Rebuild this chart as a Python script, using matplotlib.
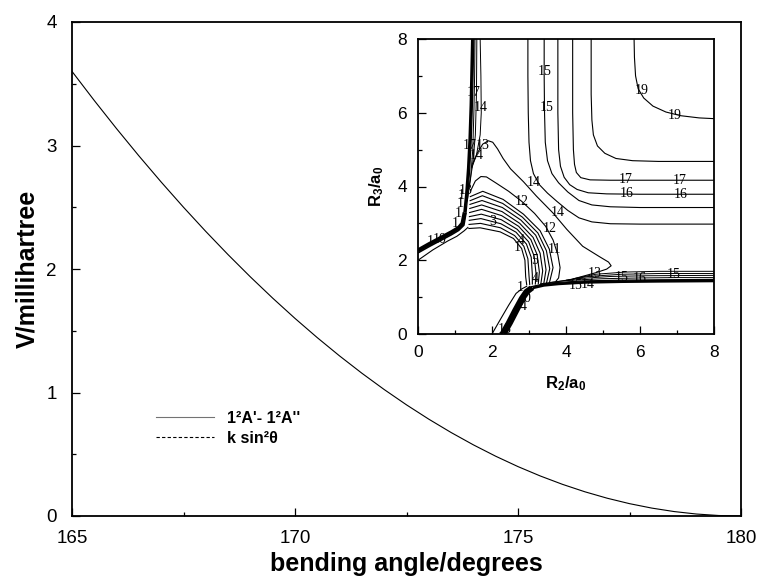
import matplotlib
matplotlib.use("Agg")
import matplotlib.pyplot as plt
from matplotlib.ticker import MultipleLocator

plt.rcParams['font.family'] = ['Liberation Sans', 'DejaVu Sans']
plt.rcParams['mathtext.fontset'] = 'custom'
plt.rcParams['mathtext.rm'] = 'Liberation Sans'
plt.rcParams['mathtext.bf'] = 'Liberation Sans:bold'
plt.rcParams['mathtext.it'] = 'Liberation Sans:italic'

# ---------------- main chart data ----------------
angle = [165.0, 165.5, 166.0, 166.5, 167.0, 167.5, 168.0, 168.5, 169.0, 169.5, 170.0,
         170.5, 171.0, 171.5, 172.0, 172.5, 173.0, 173.5, 174.0, 174.5, 175.0,
         175.5, 176.0, 176.5, 177.0, 177.5, 178.0, 178.5, 179.0, 179.5, 180.0]
v_diff = [3.600, 3.364, 3.136, 2.916, 2.704, 2.500, 2.304, 2.116, 1.936, 1.764, 1.600,
          1.444, 1.296, 1.156, 1.024, 0.900, 0.784, 0.676, 0.576, 0.484, 0.400,
          0.324, 0.256, 0.196, 0.144, 0.100, 0.064, 0.036, 0.016, 0.004, 0.000]
fit_angle = [165.0, 180.0]
v_fit = [0.0, 0.0]
series_labels = ["1\u00b2A'- 1\u00b2A''", "k sin\u00b2\u03b8"]
x_ticks = [165, 170, 175, 180]
y_ticks = [0, 1, 2, 3, 4]

# ---------------- inset contour lines (R2, R3 in a0) ----------------
wall_left_slant = [(0.0, 2.27), (0.3, 2.44), (0.6, 2.6), (0.9, 2.76), (1.1, 2.88), (1.2, 3.0), (1.26, 3.3)]
wall_left_slant_b = [(0.0, 2.2), (0.3, 2.37), (0.6, 2.53), (0.9, 2.69), (1.1, 2.81), (1.24, 2.95), (1.3, 3.3)]
wall_left_up = [(1.26, 3.3), (1.31, 3.8), (1.36, 4.5), (1.4, 5.3), (1.43, 6.2), (1.45, 7.1), (1.47, 8.0)]
wall_left_up_b = [(1.3, 3.3), (1.35, 3.8), (1.4, 4.5), (1.44, 5.3), (1.47, 6.2), (1.49, 7.1), (1.51, 8.0)]
wall_bottom_slant = [(2.33, 0.0), (2.5, 0.3), (2.68, 0.65), (2.85, 0.98), (2.97, 1.15), (3.1, 1.25)]
wall_bottom_slant_b = [(2.24, 0.0), (2.41, 0.3), (2.59, 0.65), (2.77, 0.98), (2.9, 1.17), (3.05, 1.28)]
wall_bottom_flat = [(3.1, 1.25), (3.4, 1.32), (3.8, 1.36), (4.5, 1.4), (5.5, 1.42), (6.5, 1.43), (8.0, 1.44)]
wall_bottom_flat_b = [(3.05, 1.28), (3.4, 1.36), (3.8, 1.4), (4.5, 1.44), (5.5, 1.46), (6.5, 1.47), (8.0, 1.48)]
thin_left = [(0.0, 2.0), (0.4, 2.28), (0.8, 2.52), (1.05, 2.65), (1.25, 2.8), (1.36, 2.9)]
thin_bottom = [(2.0, 0.0), (2.2, 0.35), (2.45, 0.78), (2.65, 1.1), (2.8, 1.22), (2.95, 1.3)]

chan_h = [
    [(3.3, 1.36), (4.0, 1.45), (5.0, 1.5), (6.0, 1.52), (7.0, 1.53), (8.0, 1.53)],
    [(3.6, 1.4), (4.3, 1.5), (5.2, 1.56), (6.2, 1.58), (8.0, 1.59)],
    [(4.0, 1.46), (4.6, 1.56), (5.5, 1.62), (6.5, 1.64), (8.0, 1.64)],
    [(4.2, 1.5), (4.8, 1.62), (5.6, 1.68), (6.5, 1.7), (8.0, 1.7)],
]
chan_v = [
    [(1.33, 3.6), (1.42, 4.2), (1.48, 5.0), (1.51, 6.0), (1.53, 7.0), (1.54, 8.0)],
    [(1.38, 4.0), (1.48, 4.6), (1.55, 5.4), (1.58, 6.5), (1.59, 8.0)],
    [(1.45, 4.5), (1.58, 4.85), (1.68, 5.4), (1.71, 6.0), (1.7, 7.0), (1.68, 8.0)],
]
bump = [(1.47, 4.6), (1.6, 4.9), (1.75, 5.15), (1.9, 5.24), (2.02, 5.2), (2.15, 5.02), (2.3, 4.76),
        (2.5, 4.48), (2.85, 4.13), (3.2, 3.74), (3.65, 3.28), (4.02, 2.84), (4.45, 2.38), (4.9, 2.1),
        (5.15, 1.95), (5.22, 1.85), (5.1, 1.76), (4.8, 1.66), (4.4, 1.55), (4.05, 1.45)]
l_curves = [
    [(2.97, 8.0), (2.97, 7.0), (2.98, 6.0), (3.0, 5.2), (3.04, 4.7), (3.12, 4.35), (3.28, 4.05),
     (3.5, 3.82), (3.75, 3.6), (4.05, 3.35), (4.35, 3.15), (4.7, 3.04), (5.2, 2.99), (6.0, 2.98), (8.0, 2.98)],
    [(3.41, 8.0), (3.41, 7.0), (3.42, 6.0), (3.44, 5.2), (3.5, 4.7), (3.62, 4.35), (3.8, 4.1),
     (4.05, 3.85), (4.35, 3.62), (4.7, 3.5), (5.2, 3.45), (6.0, 3.43), (8.0, 3.43)],
    [(3.78, 8.0), (3.78, 6.0), (3.8, 5.0), (3.85, 4.55), (3.95, 4.25), (4.1, 4.05), (4.3, 3.92),
     (4.6, 3.83), (5.1, 3.8), (6.0, 3.79), (8.0, 3.79)],
    [(4.18, 8.0), (4.18, 6.0), (4.2, 5.0), (4.23, 4.6), (4.28, 4.38), (4.4, 4.24), (4.65, 4.18),
     (5.2, 4.17), (8.0, 4.17)],
    [(4.68, 8.0), (4.68, 6.5), (4.7, 5.8), (4.74, 5.4), (4.85, 5.1), (5.05, 4.9), (5.35, 4.76),
     (5.8, 4.7), (6.5, 4.68), (8.0, 4.68)],
    [(5.84, 8.0), (5.85, 7.5), (5.88, 7.0), (5.95, 6.65), (6.1, 6.4), (6.35, 6.18), (6.7, 6.02),
     (7.1, 5.92), (7.6, 5.86), (8.0, 5.84)],
]
arcs = [
    [(1.36, 2.86), (1.68, 2.88), (2.22, 2.77), (2.58, 2.59), (2.8, 2.32), (2.89, 2.0), (2.91, 1.55), (2.94, 1.32)],
    [(1.365, 2.97), (1.69, 3.0), (2.23, 2.88), (2.61, 2.67), (2.86, 2.38), (2.97, 2.04), (3.0, 1.58), (3.02, 1.33)],
    [(1.37, 3.08), (1.70, 3.13), (2.24, 2.99), (2.65, 2.76), (2.93, 2.44), (3.06, 2.08), (3.09, 1.61), (3.09, 1.34)],
    [(1.375, 3.18), (1.71, 3.25), (2.25, 3.1), (2.68, 2.84), (2.99, 2.5), (3.14, 2.11), (3.19, 1.64), (3.17, 1.34)],
    [(1.38, 3.29), (1.72, 3.38), (2.26, 3.21), (2.72, 2.92), (3.05, 2.56), (3.22, 2.15), (3.28, 1.68), (3.25, 1.35)],
    [(1.385, 3.4), (1.72, 3.5), (2.27, 3.32), (2.75, 3.0), (3.11, 2.62), (3.3, 2.19), (3.37, 1.71), (3.32, 1.36)],
    [(1.39, 3.51), (1.73, 3.62), (2.28, 3.43), (2.78, 3.09), (3.18, 2.68), (3.39, 2.23), (3.46, 1.74), (3.4, 1.37)],
    [(1.395, 3.61), (1.74, 3.75), (2.29, 3.54), (2.82, 3.17), (3.24, 2.74), (3.47, 2.26), (3.56, 1.77), (3.47, 1.37)],
    [(1.40, 3.72), (1.75, 3.87), (2.3, 3.65), (2.85, 3.25), (3.3, 2.8), (3.55, 2.3), (3.65, 1.8), (3.55, 1.38)],
    [(1.42, 3.88), (1.55, 4.15), (1.7, 4.27), (1.85, 4.26), (2.1, 4.1), (2.45, 3.87), (2.8, 3.6), (3.15, 3.27),
     (3.45, 2.92), (3.65, 2.55), (3.78, 2.15), (3.84, 1.8), (3.8, 1.52), (3.72, 1.42)],
]
contour_labels = [
    ("15", 3.43, 7.13), ("15", 3.48, 6.13), ("19", 6.05, 6.6), ("19", 6.93, 5.93),
    ("17", 1.5, 6.54), ("14", 1.7, 6.13), ("17", 1.4, 5.12), ("13", 1.75, 5.1), ("14", 1.6, 4.85),
    ("14", 3.12, 4.1), ("17", 5.62, 4.2), ("17", 7.08, 4.17), ("16", 5.64, 3.81), ("16", 7.1, 3.78),
    ("12", 2.8, 3.6), ("14", 3.77, 3.29), ("12", 3.57, 2.86), ("11", 3.68, 2.28), ("3", 2.02, 3.05),
    ("4", 2.8, 2.54), ("1", 2.67, 2.34), ("5", 3.16, 2.0), ("4", 3.18, 1.5), ("1", 2.76, 1.26),
    ("0", 2.94, 0.96), ("4", 2.85, 0.74), ("18", 2.35, 0.11), ("13", 4.78, 1.64), ("15", 5.5, 1.54),
    ("16", 6.0, 1.5), ("15", 6.9, 1.6), ("15", 4.25, 1.31), ("14", 4.6, 1.34),
    ("1", 1.0, 2.99), ("1", 1.09, 3.26), ("1", 1.14, 3.55), ("1", 1.18, 3.76), ("13", 1.3, 3.89),
    ("1", 0.34, 2.5), ("10", 0.58, 2.56),
]
inset_ticks = [0, 2, 4, 6, 8]

# ---------------- figure ----------------
fig = plt.figure(figsize=(7.62, 5.81), dpi=100)
ax = fig.add_axes([72 / 762, 1 - 516 / 581, 669 / 762, 494 / 581])
ax.plot(angle, v_diff, color='black', lw=0.8, label=series_labels[0])
ax.plot(fit_angle, v_fit, color='black', lw=0.8, ls=(0, (3, 2)), label=series_labels[1])
ax.set_xlim(165, 180)
ax.set_ylim(0, 4)
ax.set_xticks(x_ticks)
ax.set_yticks(y_ticks)
ax.xaxis.set_minor_locator(MultipleLocator(2.5))
ax.yaxis.set_minor_locator(MultipleLocator(0.5))
ax.tick_params(which='both', direction='in', top=False, right=False, labelsize=13.5, width=0.9)
ax.tick_params(which='major', length=6)
ax.tick_params(which='minor', length=3)
ax.tick_params(axis='x', pad=10)
ax.tick_params(axis='y', pad=11)
for s in ax.spines.values():
    s.set_linewidth(1.3)
ax.set_xlabel('bending angle/degrees', fontsize=18, fontweight='bold', labelpad=4)
ax.set_ylabel('V/millihartree', fontsize=18, fontweight='bold', labelpad=5)
leg = ax.legend(loc='upper left', bbox_to_anchor=(0.126, 0.213), frameon=False,
                prop={'weight': 'bold', 'size': 11.5}, handlelength=3.6, handletextpad=0.8,
                labelspacing=0.3, borderpad=0, borderaxespad=0)
leg.get_lines()[0].set_color('0.45')

# ---------------- inset ----------------
ins = fig.add_axes([418 / 762, 1 - 334 / 581, 296 / 762, 295 / 581])
ins.set_xlim(0, 8)
ins.set_ylim(0, 8)


def draw(pts, **kw):
    xs, ys = zip(*pts)
    ins.plot(xs, ys, color='black', solid_joinstyle='round', solid_capstyle='butt', **kw)


draw(wall_left_slant, lw=2.8)
draw(wall_left_slant_b, lw=1.2)
draw(wall_left_up, lw=2.0)
draw(wall_left_up_b, lw=0.9)
draw(wall_bottom_slant, lw=3.5)
draw(wall_bottom_slant_b, lw=2.2)
draw(wall_bottom_flat, lw=2.0)
draw(wall_bottom_flat_b, lw=0.9)
draw(thin_left, lw=0.8)
draw(thin_bottom, lw=0.8)
for c in chan_h + chan_v:
    draw(c, lw=0.7)
draw(bump, lw=0.8)
for c in l_curves:
    draw(c, lw=0.8)
for c in arcs:
    draw(c, lw=0.8)
for t, x, y in contour_labels:
    ins.text(x, y, t, fontsize=10, family='Liberation Serif', ha='center', va='center')

ins.set_xticks(inset_ticks)
ins.set_yticks(inset_ticks)
ins.xaxis.set_minor_locator(MultipleLocator(1))
ins.yaxis.set_minor_locator(MultipleLocator(1))
ins.tick_params(which='both', direction='in', top=False, right=False, labelsize=12.5, width=0.9)
ins.tick_params(which='major', length=6)
ins.tick_params(which='minor', length=3)
ins.tick_params(axis='x', pad=8)
ins.tick_params(axis='y', pad=8)
for s in ins.spines.values():
    s.set_linewidth(1.3)
ins.set_xlabel(r'$\mathbf{R_2/a_0}$', fontsize=12, labelpad=10)
ins.set_ylabel(r'$\mathbf{R_3/a_0}$', fontsize=12, labelpad=8)

fig.savefig('out.png', dpi=100)
